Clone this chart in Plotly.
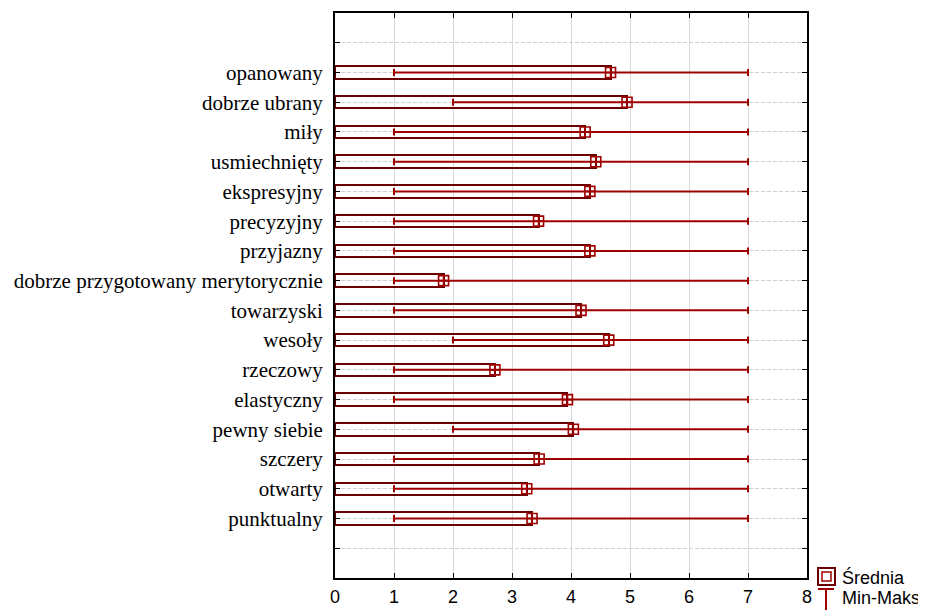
import plotly.graph_objects as go

categories = ["opanowany", "dobrze ubrany", "miły", "usmiechnięty", "ekspresyjny",
              "precyzyjny", "przyjazny", "dobrze przygotowany merytorycznie",
              "towarzyski", "wesoły", "rzeczowy", "elastyczny", "pewny siebie",
              "szczery", "otwarty", "punktualny"]
means = [4.67, 4.95, 4.24, 4.42, 4.32, 3.45, 4.32, 1.84,
         4.17, 4.64, 2.71, 3.94, 4.04, 3.46, 3.25, 3.34]
mins = [1, 2, 1, 1, 1, 1, 1, 1, 1, 2, 1, 1, 2, 1, 1, 1]
maxs = [7, 7, 7, 7, 7, 7, 7, 7, 7, 7, 7, 7, 7, 7, 7, 7]
x_ticks = [0, 1, 2, 3, 4, 5, 6, 7, 8]

pos = list(range(1, len(categories) + 1))
slot_vals = list(range(0, len(categories) + 2))
slot_text = [""] + categories + [""]

BAR = "#6a0000"
RED = "#9e0000"

# page body adds ~8px offset; figure is sized to compensate
OFF = 8
L, T, PW, PH = 335 - OFF, 13 - OFF, 472, 565
FW, FH = 926 - OFF, 610 - OFF

fig = go.Figure()
fig.add_trace(go.Bar(
    x=means, y=pos, orientation="h", width=0.42,
    marker=dict(color="rgba(255,255,255,0)", line=dict(color=BAR, width=2)),
    showlegend=False, hoverinfo="skip"))
fig.add_trace(go.Scatter(
    x=means, y=pos, mode="markers",
    marker=dict(symbol="square-cross-open", size=10, color=RED, line=dict(width=1.6, color=RED)),
    error_x=dict(type="data", symmetric=False,
                 array=[mx - m for mx, m in zip(maxs, means)],
                 arrayminus=[m - mn for m, mn in zip(means, mins)],
                 color=RED, thickness=2, width=3.5),
    showlegend=False))

fig.update_layout(
    width=FW, height=FH,
    margin=dict(l=L, r=FW - L - PW, t=T, b=FH - T - PH, autoexpand=False),
    paper_bgcolor="white", plot_bgcolor="white",
    bargap=0,
    xaxis=dict(range=[0, 8], tickvals=x_ticks, ticktext=[str(v) for v in x_ticks],
               showgrid=True, gridcolor="#d9d9d9", gridwidth=1,
               zeroline=False, showline=True, linecolor="black", linewidth=2,
               mirror="ticks", ticks="inside", ticklen=5, tickcolor="black",
               ticklabelstandoff=1,
               tickfont=dict(family="Liberation Sans, Arial", size=18, color="black")),
    yaxis=dict(range=[len(categories) + 2, -1], tickvals=slot_vals, ticktext=slot_text,
               showgrid=True, gridcolor="#d0d0d0", gridwidth=1, griddash="4px,2px",
               zeroline=False, showline=True, linecolor="black", linewidth=2,
               mirror="ticks", ticks="inside", ticklen=5, tickcolor="black",
               ticklabelstandoff=6,
               tickfont=dict(family="Liberation Serif, Times New Roman", size=21, color="black")),
)

def px(xp):
    return (xp - 335) / PW

def py(yp):
    return (578 - yp) / PH

# legend (drawn manually, bottom right)
fig.add_shape(type="rect", xref="paper", yref="paper", x0=px(818), x1=px(835),
              y0=py(585), y1=py(568), line=dict(color=BAR, width=2))
fig.add_shape(type="rect", xref="paper", yref="paper", x0=px(822), x1=px(831),
              y0=py(581), y1=py(572), line=dict(color=RED, width=1.5))
fig.add_shape(type="line", xref="paper", yref="paper", x0=px(818), x1=px(834),
              y0=py(589), y1=py(589), line=dict(color=RED, width=2))
fig.add_shape(type="line", xref="paper", yref="paper", x0=px(826), x1=px(826),
              y0=py(589), y1=py(612), line=dict(color=RED, width=2))
fig.add_annotation(xref="paper", yref="paper", x=px(840), y=py(577),
                   text="Średnia", showarrow=False, xanchor="left", yanchor="middle",
                   font=dict(family="Liberation Sans, Arial", size=18, color="black"))
fig.add_annotation(xref="paper", yref="paper", x=px(840), y=py(598),
                   text="Min-Maks", showarrow=False, xanchor="left", yanchor="middle",
                   font=dict(family="Liberation Sans, Arial", size=18, color="black"))

fig.write_html("out.html")
